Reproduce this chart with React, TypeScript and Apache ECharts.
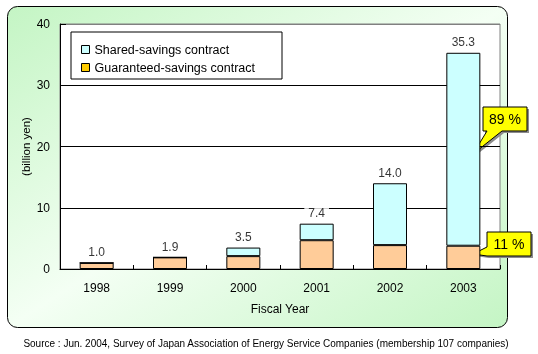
import React, { useEffect, useRef } from "react";
import * as echarts from "echarts";

const categories = ["1998", "1999", "2000", "2001", "2002", "2003"];
const guaranteed = [1.0, 1.9, 2.1, 4.7, 3.9, 3.8];
const shared = [0, 0, 1.4, 2.7, 10.1, 31.5];
const totals = [1.0, 1.9, 3.5, 7.4, 14.0, 35.3];
const yTicks = [0, 10, 20, 30, 40];
const callouts = [
  { label: "89 %", category: "2003", value: 18.8 },
  { label: "11 %", category: "2003", value: 2.4 },
];
const seriesNames = ["Shared-savings contract", "Guaranteed-savings contract"];
const sourceText =
  "Source : Jun. 2004, Survey of Japan Association of Energy Service Companies (membership 107 companies)";

const FONT = "Arial, 'Liberation Sans', sans-serif";

export default function App() {
  const ref = useRef<HTMLDivElement>(null);
  useEffect(() => {
    if (!ref.current) return;
    const chart = echarts.init(ref.current, undefined, { renderer: "svg" });
    const bgGrad = new echarts.graphic.LinearGradient(0, 0, 1, 1, [
      { offset: 0, color: "#c4f5c4" },
      { offset: 0.5, color: "#f4fff4" },
      { offset: 1, color: "#c4f5c4" },
    ]);
    const baseGraphics: any[] = [
      {
        id: "bg",
        type: "rect",
        z: -100,
        shape: { x: 7.5, y: 6.5, width: 500, height: 321, r: 10 },
        style: { fill: bgGrad, stroke: "#000", lineWidth: 1 },
      },
      {
        id: "src",
        type: "text",
        x: 266,
        y: 343,
        style: {
          text: sourceText,
          fill: "#000",
          font: `10px ${FONT}`,
          align: "center",
          verticalAlign: "middle",
        },
      },
    ];
    chart.setOption({
      animation: false,
      textStyle: { fontFamily: FONT },
      graphic: baseGraphics,
      legend: {
        orient: "vertical",
        left: 71,
        top: 32,
        backgroundColor: "#fff",
        borderColor: "#000",
        borderWidth: 1,
        borderRadius: 0,
        padding: [11, 27, 5, 10],
        itemGap: 5,
        itemWidth: 8,
        itemHeight: 8,
        textStyle: { fontSize: 12.5, color: "#000", fontFamily: FONT },
        data: [
          { name: seriesNames[0], icon: "rect", itemStyle: { color: "#ccffff", borderColor: "#000", borderWidth: 1 } },
          { name: seriesNames[1], icon: "rect", itemStyle: { color: "#ffcc00", borderColor: "#000", borderWidth: 1 } },
        ],
      },
      grid: {
        left: 60,
        right: 38,
        top: 24,
        bottom: 85,
        show: true,
        backgroundColor: "#fff",
        borderColor: "#808080",
        borderWidth: 1,
      },
      xAxis: {
        type: "category",
        data: categories,
        boundaryGap: true,
        name: "Fiscal Year",
        nameLocation: "middle",
        nameGap: 34,
        nameMoveOverlap: false,
        nameTextStyle: { fontSize: 12, color: "#000", fontFamily: FONT },
        axisLine: { show: true, lineStyle: { color: "#000", width: 1 } },
        axisTick: { show: true, inside: true, length: 4, lineStyle: { color: "#000" } },
        axisLabel: { fontSize: 12, color: "#000", margin: 13, fontFamily: FONT },
        splitLine: { show: false },
      },
      yAxis: {
        type: "value",
        min: yTicks[0],
        max: yTicks[yTicks.length - 1],
        interval: 10,
        name: "(billion yen)",
        nameLocation: "middle",
        nameRotate: 90,
        nameGap: 28,
        nameMoveOverlap: false,
        nameTextStyle: { fontSize: 11.5, color: "#000", fontFamily: FONT },
        axisLine: { show: true, lineStyle: { color: "#000", width: 1 } },
        axisTick: { show: true, inside: true, length: 6, lineStyle: { color: "#000" } },
        axisLabel: { fontSize: 12, color: "#000", margin: 10, fontFamily: FONT },
        splitLine: {
          show: true,
          lineStyle: { color: ["#000", "#000", "#000", "#000", "#808080"], width: 1 },
        },
      },
      series: [
        {
          name: seriesNames[1],
          type: "bar",
          stack: "total",
          barWidth: 34,
          data: guaranteed,
          itemStyle: { color: "#ffcc99", borderColor: "#000", borderWidth: 1 },
        },
        {
          name: seriesNames[0],
          type: "bar",
          stack: "total",
          barWidth: 34,
          data: shared,
          itemStyle: { color: "#ccffff", borderColor: "#000", borderWidth: 1 },
        },
        {
          name: "total",
          type: "scatter",
          data: totals,
          symbolSize: 1,
          itemStyle: { color: "rgba(0,0,0,0)" },
          z: 5,
          label: {
            show: true,
            position: "top",
            distance: 2,
            formatter: (p: any) => Number(p.value).toFixed(1),
            fontSize: 12,
            color: "#000",
            fontFamily: FONT,
            backgroundColor: "#fff",
            padding: [2, 4, 2, 4],
          },
        },
      ],
    });

    const shapes = [
      {
        pts: [[10, -47], [54, -47], [54, -23], [29, -23], [0, 0], [14, -23], [10, -23]],
        cx: 32,
        cy: -35,
      },
      {
        pts: [[14, -22], [58, -22], [58, 2], [14, 2], [0, 0], [14, -7]],
        cx: 36,
        cy: -10,
      },
    ];
    const calloutGraphics = callouts.map((c, i) => {
      const p = chart.convertToPixel({ seriesIndex: 0 }, [c.category, c.value]) as number[];
      const s = shapes[i];
      return {
        id: "callout" + i,
        type: "group",
        x: Math.round(p[0]) + 10,
        y: Math.round(p[1]),
        z: 50,
        children: [
          {
            type: "polygon",
            x: 2,
            y: 2,
            shape: { points: s.pts },
            style: { fill: "#8c8c8c", stroke: "none" },
          },
          {
            type: "polygon",
            shape: { points: s.pts },
            style: { fill: "#ffff00", stroke: "#000", lineWidth: 1 },
          },
          {
            type: "text",
            x: s.cx,
            y: s.cy,
            style: {
              text: c.label,
              fill: "#000",
              font: `14px ${FONT}`,
              align: "center",
              verticalAlign: "middle",
            },
          },
        ],
      };
    });
    chart.setOption({ graphic: [...baseGraphics, ...calloutGraphics] });
    return () => chart.dispose();
  }, []);
  return (
    <div
      ref={ref}
      style={{ position: "fixed", left: 0, top: 0, width: 538, height: 354 }}
    />
  );
}
